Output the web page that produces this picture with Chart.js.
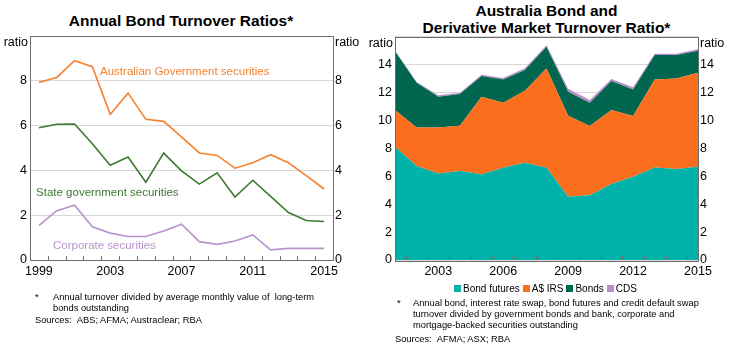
<!DOCTYPE html>
<html>
<head>
<meta charset="utf-8">
<script src="https://cdn.jsdelivr.net/npm/chart.js@4.4.0/dist/chart.umd.min.js"></script>
<style>
    html, body { margin: 0; padding: 0; background: #fff; }
    body { width: 729px; height: 345px; position: relative; overflow: hidden; font-family: "Liberation Sans", Arial, sans-serif; color: #000; }
    .box { position: absolute; }
    canvas { position: absolute; top: 0; }
    .title { position: absolute; text-align: center; font-weight: bold; font-size: 15.5px; line-height: 17px; }
    .note { position: absolute; font-size: 9.3px; line-height: 10.8px; white-space: nowrap; }
    .legend { position: absolute; font-size: 10px; white-space: nowrap; }
    .legend span.sq { display: inline-block; width: 7px; height: 7px; margin: 0 2px 0 3px; vertical-align: 0px; }
</style>
</head>
<body>

<div class="title" style="left:0; width:362px; top:12px;">Annual Bond Turnover Ratios*</div>
<div class="title" style="left:364px; width:365px; top:2px;">Australia Bond and<br>Derivative Market Turnover Ratio*</div>

<canvas id="turnoverChart" width="365" height="285" style="left:0; width:365px; height:285px;"></canvas>
<canvas id="derivChart" width="365" height="285" style="left:364px; width:365px; height:285px;"></canvas>

<div class="legend" style="left:451px; top:283px;">
    <span class="sq" style="background:#00b2a9"></span>Bond futures<span class="sq" style="background:#fa6e1e"></span>A$ IRS<span class="sq" style="background:#00664f"></span>Bonds<span class="sq" style="background:#b98fc9"></span>CDS
</div>

<div class="note" style="left:35px; top:292px;">*</div>
<div class="note" style="left:53px; top:292px;">Annual turnover divided by average monthly value of &nbsp;long-term<br>bonds outstanding</div>
<div class="note" style="left:35px; top:315px;">Sources: &nbsp;ABS; AFMA; Austraclear; RBA</div>

<div class="note" style="left:397px; top:298px;">*</div>
<div class="note" style="left:413px; top:298px;">Annual bond, interest rate swap, bond futures and credit default swap<br>turnover divided by government bonds and bank, corporate and<br>mortgage-backed securities outstanding</div>
<div class="note" style="left:395px; top:334px;">Sources: &nbsp;AFMA; ASX; RBA</div>

<script>
// ---------------------------
// DATA
// ---------------------------
const years1 = ["1999", "2000", "2001", "2002", "2003", "2004", "2005", "2006", "2007",
                "2008", "2009", "2010", "2011", "2012", "2013", "2014", "2015"];
const shown1 = ["1999", "2003", "2007", "2011", "2015"];
const agsVals   = [7.93, 8.15, 8.9, 8.63, 6.5, 7.45, 6.28, 6.19, 5.5, 4.78, 4.67, 4.1, 4.34, 4.7, 4.34, 3.77, 3.17];
const stateVals = [5.9, 6.06, 6.07, 5.19, 4.23, 4.6, 3.47, 4.77, 3.98, 3.39, 3.89, 2.81, 3.56, 2.84, 2.12, 1.76, 1.72];
const corpVals  = [1.53, 2.2, 2.45, 1.48, 1.2, 1.05, 1.05, 1.29, 1.6, 0.82, 0.7, 0.85, 1.12, 0.45, 0.52, 0.52, 0.52];

const years2 = ["2001", "2002", "2003", "2004", "2005", "2006", "2007", "2008",
                "2009", "2010", "2011", "2012", "2013", "2014", "2015"];
const shown2 = ["2003", "2006", "2009", "2012", "2015"];
const futuresVals = [8.1, 6.73, 6.2, 6.37, 6.13, 6.6, 6.96, 6.6, 4.53, 4.63, 5.44, 5.96, 6.63, 6.51, 6.68];
const irsVals     = [2.63, 2.76, 3.29, 3.24, 5.56, 4.66, 5.16, 7.11, 5.8, 4.96, 5.29, 4.34, 6.3, 6.49, 6.72];
const bondsVals   = [4.22, 3.2, 2.2, 2.27, 1.48, 1.67, 1.48, 1.55, 1.71, 1.67, 2.08, 1.91, 1.74, 1.67, 1.58];
const cdsVals     = [0.05, 0.05, 0.1, 0.1, 0.1, 0.1, 0.12, 0.12, 0.22, 0.2, 0.15, 0.15, 0.1, 0.1, 0.1];

// series name labels inside the left chart (category index, value)
const seriesNotes = [
    { text: "Australian Government securities", x: 3.43, y: 8.4, color: "#f58231" },
    { text: "State government securities", x: -0.16, y: 3.02, color: "#3d7a31" },
    { text: "Corporate securities", x: 0.79, y: 0.62, color: "#b993cc" }
];

const FONT = "Liberation Sans";

// ---------------------------
// shared plugin: frame, inner ticks, "ratio" labels
// ---------------------------
const framePlugin = {
    id: "frame",
    afterDatasetsDraw(chart) {
        const { ctx, chartArea: a, scales } = chart;
        const xs = scales.x;
        const n = chart.data.labels.length;
        ctx.save();
        ctx.strokeStyle = "#6e6e6e";
        ctx.lineWidth = 1;
        ctx.beginPath();
        for (let i = 0; i < n - 1; i++) {
            const px = Math.round((xs.getPixelForValue(i) + xs.getPixelForValue(i + 1)) / 2) + 0.5;
            ctx.moveTo(px, a.bottom);
            ctx.lineTo(px, a.bottom - 4);
        }
        ctx.stroke();
        ctx.strokeRect(Math.round(a.left) + 0.5, Math.round(a.top) + 0.5,
                       Math.round(a.right - a.left), Math.round(a.bottom - a.top));

        ctx.fillStyle = "#000";
        ctx.font = "12.5px '" + FONT + "'";
        ctx.textBaseline = "middle";
        ctx.textAlign = "right";
        ctx.fillText("ratio", a.left - 2, a.top + 7);
        ctx.textAlign = "left";
        ctx.fillText("ratio", a.right + 2, a.top + 7);
        ctx.restore();
    }
};

const notesPlugin = {
    id: "notes",
    afterDatasetsDraw(chart) {
        const { ctx, scales } = chart;
        ctx.save();
        ctx.font = "11.5px '" + FONT + "'";
        ctx.textAlign = "left";
        ctx.textBaseline = "middle";
        seriesNotes.forEach(nt => {
            ctx.fillStyle = nt.color;
            ctx.fillText(nt.text, scales.x.getPixelForValue(nt.x), scales.y.getPixelForValue(nt.y));
        });
        ctx.restore();
    }
};

function yAxis(pos, max, width) {
    return {
        position: pos,
        min: 0,
        max: max,
        stacked: pos === "left" ? true : false,
        afterFit: s => { s.width = width; },
        border: { display: false },
        grid: pos === "left"
            ? { color: "#d9d9d9", lineWidth: 1, drawTicks: false }
            : { display: false, drawTicks: false },
        ticks: {
            stepSize: 2,
            padding: pos === "left" ? 3 : 2,
            color: "#000",
            font: { family: FONT, size: 12.5 },
            callback: v => (v === max ? "" : v)
        }
    };
}

function xAxis(labels, shown, offset) {
    return {
        type: "category",
        offset: offset,
        afterFit: s => { s.height = 25; },
        border: { display: false },
        grid: { display: false, drawTicks: false },
        ticks: {
            autoSkip: false,
            maxRotation: 0,
            padding: 4,
            color: "#000",
            font: { family: FONT, size: 12.5 },
            callback: (v, i) => (shown.includes(labels[i]) ? labels[i] : "")
        }
    };
}

document.addEventListener("DOMContentLoaded", () => {

    // ---------------------------
    // ANNUAL BOND TURNOVER RATIOS
    // ---------------------------
    const turnoverEl = document.getElementById("turnoverChart");
    new Chart(turnoverEl.getContext("2d"), {
        type: "line",
        data: {
            labels: years1,
            datasets: [
                { label: "Australian Government securities", data: agsVals, borderColor: "#f58231" },
                { label: "State government securities", data: stateVals, borderColor: "#3d7a31" },
                { label: "Corporate securities", data: corpVals, borderColor: "#b993cc" }
            ].map(d => Object.assign(d, { borderWidth: 1.6, pointRadius: 0, tension: 0, fill: false }))
        },
        options: {
            responsive: false,
            animation: false,
            layout: { padding: { top: 36, left: 0, right: 0, bottom: 0 } },
            plugins: { legend: { display: false }, tooltip: { enabled: false } },
            scales: {
                x: xAxis(years1, shown1, true),
                y: Object.assign(yAxis("left", 10, 30), { stacked: false }),
                y2: yAxis("right", 10, 32)
            }
        },
        plugins: [framePlugin, notesPlugin]
    });

    // ---------------------------
    // BOND AND DERIVATIVE TURNOVER
    // ---------------------------
    const derivEl = document.getElementById("derivChart");
    new Chart(derivEl.getContext("2d"), {
        type: "line",
        data: {
            labels: years2,
            datasets: [
                { label: "Bond futures", data: futuresVals, backgroundColor: "#00b2a9", fill: "origin" },
                { label: "A$ IRS", data: irsVals, backgroundColor: "#fa6e1e", fill: "-1" },
                { label: "Bonds", data: bondsVals, backgroundColor: "#00664f", fill: "-1" },
                { label: "CDS", data: cdsVals, backgroundColor: "#b98fc9", fill: "-1" }
            ].map(d => Object.assign(d, { borderWidth: 0, borderColor: "rgba(0,0,0,0)", pointRadius: 0, tension: 0 }))
        },
        options: {
            responsive: false,
            animation: false,
            layout: { padding: { top: 36.5, left: 0, right: 0, bottom: 0 } },
            plugins: { legend: { display: false }, tooltip: { enabled: false } },
            scales: {
                x: xAxis(years2, shown2, false),
                y: yAxis("left", 16, 31),
                y2: yAxis("right", 16, 31)
            }
        },
        plugins: [framePlugin]
    });

});
</script>
</body>
</html>
